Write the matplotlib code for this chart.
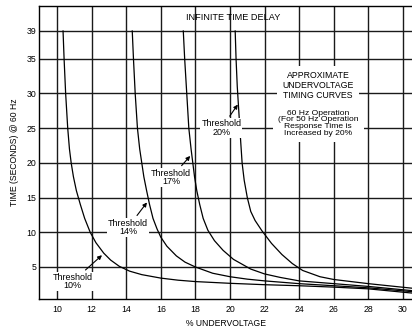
"""
Approximate undervoltage timing curves (time vs % undervoltage).
"""

import matplotlib
matplotlib.use("Agg")
import matplotlib.pyplot as plt

plt.rcParams['font.family'] = ['Liberation Sans', 'DejaVu Sans']

# curve data (x = % undervoltage, y = seconds)
thr10_x = [10.35, 10.41, 10.5, 10.62, 10.72, 10.82, 10.95, 11.12, 11.35, 11.6, 11.92, 12.25, 12.7, 13.1,
           13.6, 14.2, 14.9, 16.0, 17.0, 18.0, 20.0, 22.0, 24.0, 26.0, 28.0, 30.5]
thr10_y = [39, 35, 30, 25, 22, 20, 18, 16, 14, 12, 10, 8.5, 7, 6,
           5.1, 4.4, 3.9, 3.4, 3.1, 2.9, 2.65, 2.45, 2.3, 2.1, 1.85, 1.25]

thr14_x = [14.35, 14.42, 14.52, 14.65, 14.78, 14.9, 15.02, 15.18, 15.35, 15.55, 15.78, 16.0, 16.35, 16.9,
           17.4, 18.0, 19.0, 20.0, 21.0, 22.0, 24.0, 26.0, 28.0, 30.5]
thr14_y = [39, 35, 30, 25, 22, 20, 18, 16, 14, 12, 10.5, 9.3, 8, 6.6,
           5.7, 5.0, 4.1, 3.6, 3.25, 3.0, 2.6, 2.3, 2.0, 1.45]

thr17_x = [17.3, 17.38, 17.5, 17.62, 17.75, 17.85, 17.95, 18.08, 18.25, 18.45, 18.72, 19.1, 19.6, 20.2,
           21.2, 22.0, 22.9, 24.0, 26.0, 28.0, 30.5]
thr17_y = [39, 35, 30, 25, 22, 20, 18, 16, 14, 12, 10.3, 8.8, 7.4, 6.1,
           4.7, 4.0, 3.5, 3.0, 2.6, 2.2, 1.6]

thr20_x = [20.3, 20.35, 20.42, 20.52, 20.62, 20.7, 20.82, 21.0, 21.2, 21.45, 21.85, 22.4, 23.0, 23.6,
           24.2, 25.2, 26.0, 27.0, 28.0, 30.5]
thr20_y = [39, 35, 31, 27, 23, 20, 17.5, 15, 13, 11.7, 10.2, 8.4, 6.8, 5.5,
           4.5, 3.6, 3.2, 2.9, 2.6, 1.95]

x_ticks = [10, 12, 14, 16, 18, 20, 22, 24, 26, 28, 30]
y_ticks = [5, 10, 15, 20, 25, 30, 35, 39]

# label text, label position, arrow tip
labels = ['Threshold\n10%', 'Threshold\n14%', 'Threshold\n17%', 'Threshold\n20%']
label_xy = [(10.9, 2.9), (14.1, 10.7), (16.6, 17.9), (19.5, 25.0)]
tip_xy = [(12.6, 6.7), (15.2, 14.3), (17.7, 21.0), (20.45, 28.4)]

fig = plt.figure(figsize=(4.12, 3.28), dpi=100)
ax = fig.add_axes([39 / 412, 29 / 328, 373 / 412, 293 / 328])

for xs, ys in [(thr10_x, thr10_y), (thr14_x, thr14_y), (thr17_x, thr17_y), (thr20_x, thr20_y)]:
    ax.plot(xs, ys, color='black', lw=0.9, zorder=3)

ax.set_xlim(8.96, 30.52)
ax.set_ylim(0.39, 42.6)
ax.set_xticks(x_ticks)
ax.set_yticks(y_ticks)
ax.tick_params(length=0, labelsize=6.3, pad=4)
ax.tick_params(axis='y', pad=2)
ax.grid(True, color='#1a1a1a', lw=1.0)
ax.set_axisbelow(True)
for side in ['left', 'bottom', 'top']:
    ax.spines[side].set_linewidth(1.0)
ax.spines['right'].set_visible(False)

ax.set_xlabel('% UNDERVOLTAGE', fontsize=6.2, labelpad=4)
ax.set_ylabel('TIME (SECONDS) @ 60 Hz', fontsize=6.2, labelpad=5)

for txt, (lx, ly), (tx, ty) in zip(labels, label_xy, tip_xy):
    ax.annotate(txt, xy=(tx, ty), xytext=(lx, ly), ha='center', va='center',
                fontsize=6.5, linespacing=0.95, zorder=5,
                bbox=dict(boxstyle='square,pad=0.1', fc='white', ec='none'),
                arrowprops=dict(arrowstyle='-|>', color='black', lw=0.8,
                                mutation_scale=6, shrinkA=2, shrinkB=0))

ax.text(20.2, 41.0, 'INFINITE TIME DELAY', ha='center', va='center', fontsize=6.6)

ax.text(25.1, 31.1, 'APPROXIMATE\nUNDERVOLTAGE\nTIMING CURVES', ha='center', va='center',
        fontsize=6.3, linespacing=1.12, zorder=4,
        bbox=dict(boxstyle='square,pad=0.6', fc='white', ec='none'))
ax.text(25.1, 25.7, '60 Hz Operation\n(For 50 Hz Operation\nResponse Time is\nIncreased by 20%',
        ha='center', va='center', fontsize=6.1, linespacing=0.93, zorder=4,
        bbox=dict(boxstyle='square,pad=0.6', fc='white', ec='none'))

fig.savefig('out.png', dpi=100)
